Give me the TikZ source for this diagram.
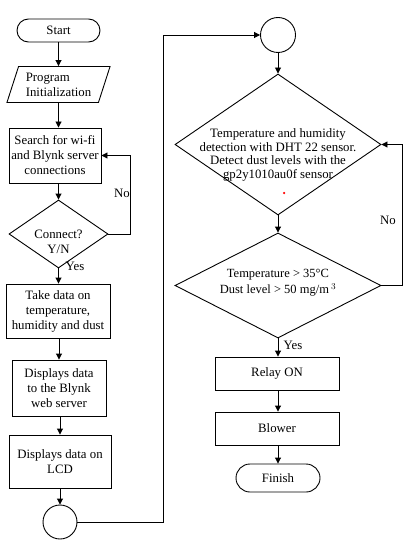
\documentclass[tikz,border=0pt]{standalone}
\usepackage{fontspec}
\setmainfont{Liberation Serif}
\usetikzlibrary{shapes.geometric,arrows.meta}

\begin{document}
\begin{tikzpicture}[
  x=1pt, y=-1pt,
  every node/.style={inner sep=1pt, font=\fontsize{12.8}{15}\selectfont},
  base/.style={draw=black, line width=0.9pt},
  term/.style={base, rectangle, rounded corners=11.5pt, minimum height=23},
  io/.style={base, trapezium, trapezium left angle=69, trapezium right angle=111,
              trapezium stretches=true, align=left},
  proc/.style={base, rectangle, align=center},
  dia/.style={base, diamond, inner sep=0pt},
  jn/.style={base, circle, minimum size=34},
  txt/.style={align=center},
  lbl/.style={inner sep=0pt},
  arr/.style={-{Triangle[length=6pt,width=6pt]}, line width=0.9pt},
]
  \useasboundingbox (0,0) rectangle (412,556);
  \node[term, minimum width=83] (start) at (58.5,30.5) {Start};
  \node[io, minimum width=104, minimum height=36] (init) at (58.5,84.5) {Program\\Initialization};
  \node[proc, minimum width=92, minimum height=55] (search) at (55,155.5) {Search for wi-fi\\and Blynk server\\connections};
  \node[dia, minimum width=99, minimum height=68] (conn) at (58.5,234) {};
  \node[txt] (connt) at (58.5,242) {Connect?\\Y/N};
  \node[proc, minimum width=104, minimum height=54] (take) at (58,311) {Take data on\\temperature,\\humidity and dust};
  \node[proc, minimum width=94, minimum height=56] (blynk) at (59,388) {Displays data\\to the Blynk\\web server};
  \node[proc, minimum width=102, minimum height=53] (lcd) at (60,461.5) {Displays data on\\LCD};
  \node[jn] (ja) at (60,522) {};
  \node[jn, minimum size=35] (jb) at (278,35) {};
  \node[dia, minimum width=206, minimum height=141] (detect) at (278,144.5) {};
  \node[txt, font=\fontsize{12.8}{13.4}\selectfont] (detectt) at (278,155) {Temperature and humidity\\detection with DHT 22 sensor.\\Detect dust levels with the\\gp2y1010au0f sensor};
  \node[circle, fill=red, inner sep=0pt, minimum size=2.5] (dot) at (284,193) {};
  \node[dia, minimum width=206, minimum height=105] (cond) at (278,285.5) {};
  \node[txt, font=\fontsize{12.5}{16}\selectfont] (condt) at (278,283) {Temperature > 35°C\\Dust level > 50 mg/m\,$^{3}$};
  \node[proc, minimum width=124, minimum height=33] (relay) at (277,373.5) {Relay ON};
  \node[proc, minimum width=124, minimum height=33] (blower) at (277,428.5) {Blower};
  \node[term, minimum width=84, minimum height=28, rounded corners=14pt] (finish) at (278,478) {Finish};
  \draw[arr] (start) -- (init);
  \draw[arr] (init.south) -- (init.south |- search.north);
  \draw[arr] (conn.north |- search.south) -- (conn.north);
  \draw[arr] (conn.east) -- ++(22,0) |- (search.east);
  \node[lbl] (no1) at (122,193) {No};
  \draw[arr] (conn.south) -- (take.north -| conn.south);
  \node[lbl] (yes1) at (75,266) {Yes};
  \draw[arr] (take.south -| blynk.north) -- (blynk.north);
  \draw[arr] (blynk.south -| lcd.north) -- (lcd.north);
  \draw[arr] (lcd) -- (ja);
  \draw[arr] (ja.east) -- ++(86,0) |- (jb.west);
  \draw[arr] (jb) -- (detect);
  \draw[arr] (detect) -- (cond);
  \draw[arr] (cond.east) -- ++(21,0) |- (detect.east);
  \node[lbl] (no2) at (388,220) {No};
  \draw[arr] (cond.south) -- (relay.north -| cond.south);
  \node[lbl] (yes2) at (293,345) {Yes};
  \draw[arr] (relay.south -| cond.south) -- (blower.north -| cond.south);
  \draw[arr] (blower.south -| finish.north) -- (finish.north);
\end{tikzpicture}
\end{document}
